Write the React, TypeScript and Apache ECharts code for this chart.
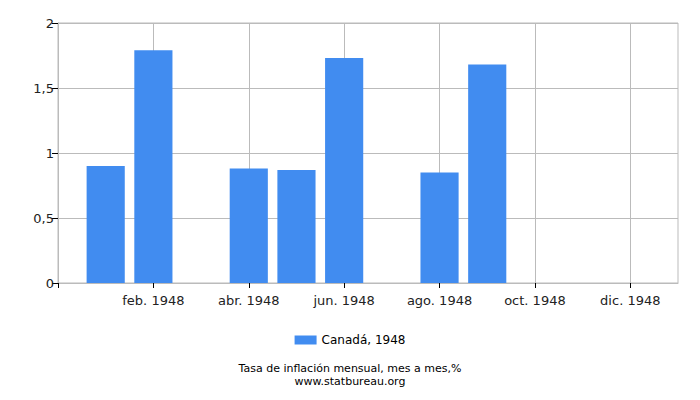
import { useEffect, useRef } from "react";
import * as echarts from "echarts";

const months = [
  "",
  "ene. 1948",
  "feb. 1948",
  "mar. 1948",
  "abr. 1948",
  "may. 1948",
  "jun. 1948",
  "jul. 1948",
  "ago. 1948",
  "sept. 1948",
  "oct. 1948",
  "nov. 1948",
  "dic. 1948",
  "",
];
const canadaValues = [null, 0.9, 1.79, null, 0.88, 0.87, 1.73, null, 0.85, 1.68, null, null, null, null];
const yTicks = [0, 0.5, 1, 1.5, 2];

const seriesName = "Canadá, 1948";
const FONT = "DejaVu Sans";
const BAR_COLOR = "#418cf0";

const App = () => {
  const chartRef = useRef<HTMLDivElement>(null);

  useEffect(() => {
    document.body.style.margin = "0";
    if (!chartRef.current) return;
    const chart = echarts.init(chartRef.current, undefined, { renderer: "svg" });

    const evenIdx = (i: number) => i % 2 === 0;

    chart.setOption({
      animation: false,
      textStyle: { fontFamily: FONT },
      title: {
        text: "Tasa de inflación mensual, mes a mes,%\nwww.statbureau.org",
        left: "center",
        top: 362,
        padding: 0,
        textStyle: { fontFamily: FONT, fontSize: 11, fontWeight: "normal", color: "#000", lineHeight: 13 },
      },
      legend: {
        data: [seriesName],
        left: "center",
        top: 329,
        icon: "rect",
        itemWidth: 22,
        itemHeight: 9,
        textStyle: { fontFamily: FONT, fontSize: 12, color: "#000" },
      },
      grid: {
        left: 58,
        right: 22,
        top: 23,
        bottom: 117,
        show: true,
        borderColor: "#bbb",
        borderWidth: 1,
      },
      xAxis: {
        type: "category",
        data: months,
        boundaryGap: false,
        axisLine: { show: true, lineStyle: { color: "#bbb" } },
        axisTick: { show: true, interval: (i: number) => evenIdx(i), length: 5, lineStyle: { color: "#000" } },
        axisLabel: {
          interval: (i: number) => evenIdx(i) && i > 0,
          color: "#222",
          fontSize: 13,
          fontFamily: FONT,
          margin: 11,
        },
        splitLine: { show: true, interval: (i: number) => evenIdx(i), lineStyle: { color: "#bbb" } },
      },
      yAxis: {
        type: "value",
        min: yTicks[0],
        max: yTicks[yTicks.length - 1],
        interval: 0.5,
        axisLine: { show: true, lineStyle: { color: "#bbb" } },
        axisTick: { show: true, length: 6, lineStyle: { color: "#000" } },
        axisLabel: {
          color: "#222",
          fontSize: 13,
          fontFamily: FONT,
          margin: 4,
          formatter: (v: number) => String(v).replace(".", ","),
        },
        splitLine: { show: true, lineStyle: { color: "#bbb" } },
      },
      series: [
        {
          name: seriesName,
          type: "bar",
          data: canadaValues,
          barCategoryGap: "20%",
          itemStyle: { color: BAR_COLOR },
        },
      ],
    });

    return () => chart.dispose();
  }, []);

  return <div ref={chartRef} style={{ width: 700, height: 400 }} />;
};

export default App;
